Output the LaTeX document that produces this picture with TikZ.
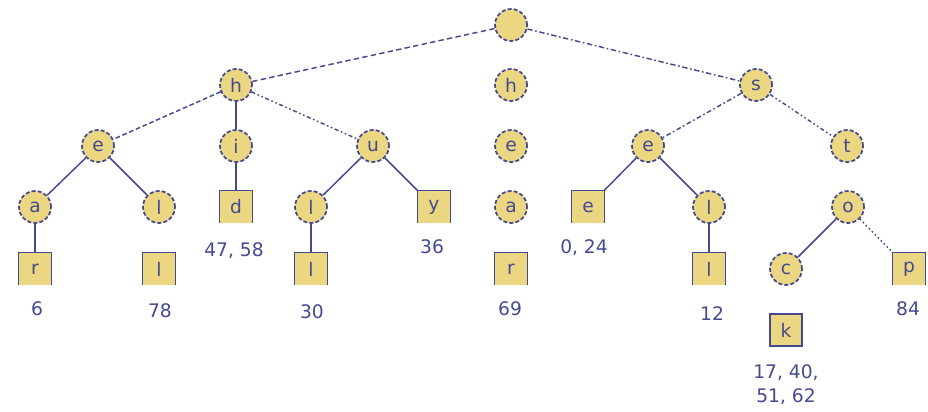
\documentclass[tikz,border=0pt]{standalone}
\usepackage{fontspec}
\setmainfont{DejaVu Sans}
\definecolor{navy}{HTML}{454A90}
\definecolor{straw}{HTML}{EBD682}
\tikzset{
  inner/.style={circle,draw=navy,fill=straw,line width=1.3pt,dash pattern=on 3pt off 1.6pt,
    minimum size=24pt,inner sep=0pt,text=navy,font=\fontsize{14}{14}\selectfont},
  leaf/.style={rectangle,fill=straw,minimum size=24pt,inner sep=0pt,text=navy,
    font=\fontsize{14}{14}\selectfont},
  posn/.style={text=navy,font=\fontsize{14}{18}\selectfont,align=center,inner sep=0pt},
  edge/.style={draw=navy,line width=1.1pt}
}
\begin{document}
\begin{tikzpicture}[x=0.75pt,y=-0.75pt]
\useasboundingbox (0,0) rectangle (928,411);

% trie nodes
\node[inner] (root) at (511,25) {};
\node[inner] (h) at (236,85) {h};
\node[inner] (hm) at (511,85) {h};
\node[inner] (s) at (756,85) {s};

\node[inner] (e1) at (98,146) {e};
\node[inner] (i) at (236,146) {i};
\node[inner] (u) at (373,146) {u};
\node[inner] (em) at (511,146) {e};
\node[inner] (e2) at (648,146) {e};
\node[inner] (t) at (847,146) {t};

\node[inner] (a1) at (35,207) {a};
\node[inner] (l1) at (159,207) {l};
\node[leaf] (d) at (236,207) {d};
\node[inner] (l2) at (311,207) {l};
\node[leaf] (y) at (434,207) {y};
\node[inner] (am) at (511,207) {a};
\node[leaf] (eb) at (588,207) {e};
\node[inner] (l3) at (709,207) {l};
\node[inner] (o) at (848,207) {o};

\node[leaf] (r1) at (35,269) {r};
\node[leaf] (lb1) at (159,269) {l};
\node[leaf] (lb2) at (311,269) {l};
\node[leaf] (rm) at (511,269) {r};
\node[leaf] (lb3) at (709,269) {l};
\node[inner] (c) at (786,269) {c};
\node[leaf] (p) at (909,269) {p};
\node[leaf,draw=navy,line width=1.1pt] (k) at (786,330) {k};

% positions
\node[posn] (pos6) at (37,309) {6};
\node[posn] (pos78) at (160,311) {78};
\node[posn] (pos47) at (234,251) {47, 58};
\node[posn] (pos30) at (312,312) {30};
\node[posn] (pos36) at (432,247) {36};
\node[posn] (pos69) at (510,309) {69};
\node[posn] (pos0) at (584,248) {0, 24};
\node[posn] (pos12) at (712,314) {12};
\node[posn] (pos84) at (908,309) {84};
\node[posn] (pos17) at (786,385) {17, 40,\\51, 62};

% leaf boxes are open at the bottom
\foreach \n in {r1,lb1,d,lb2,y,rm,eb,lb3,p} {
  \draw[edge] (\n.south west) |- (\n.north east) -- (\n.south east);
}

% edges
\draw[edge,dash pattern=on 4pt off 2.5pt] (root) -- (h);
\draw[edge,dash pattern=on 4pt off 2pt on 1.2pt off 2pt] (root) -- (s);
\draw[edge,dash pattern=on 3.5pt off 2pt] (h) -- (e1);
\draw[edge,line width=1.6pt] (h) -- (i);
\draw[edge,dash pattern=on 3pt off 2pt on 1.2pt off 2pt on 1.2pt off 2pt] (h) -- (u);
\draw[edge] (e1) -- (a1);
\draw[edge] (e1) -- (l1);
\draw[edge,line width=1.6pt] (i) -- (d);
\draw[edge] (u) -- (l2);
\draw[edge] (u) -- (y);
\draw[edge,line width=1.6pt] (a1) -- (r1);
\draw[edge,line width=1.6pt] (l2) -- (lb2);
\draw[edge,dash pattern=on 3.5pt off 2pt on 1.2pt off 2pt] (s) -- (e2);
\draw[edge,dash pattern=on 3pt off 2pt on 1.2pt off 2pt on 1.2pt off 2pt] (s) -- (t);
\draw[edge] (e2) -- (eb);
\draw[edge] (e2) -- (l3);
\draw[edge,line width=1.6pt] (l3) -- (lb3);
\draw[edge] (o) -- (c);
\draw[edge,dash pattern=on 1.2pt off 2pt] (o) -- (p);
\end{tikzpicture}
\end{document}
